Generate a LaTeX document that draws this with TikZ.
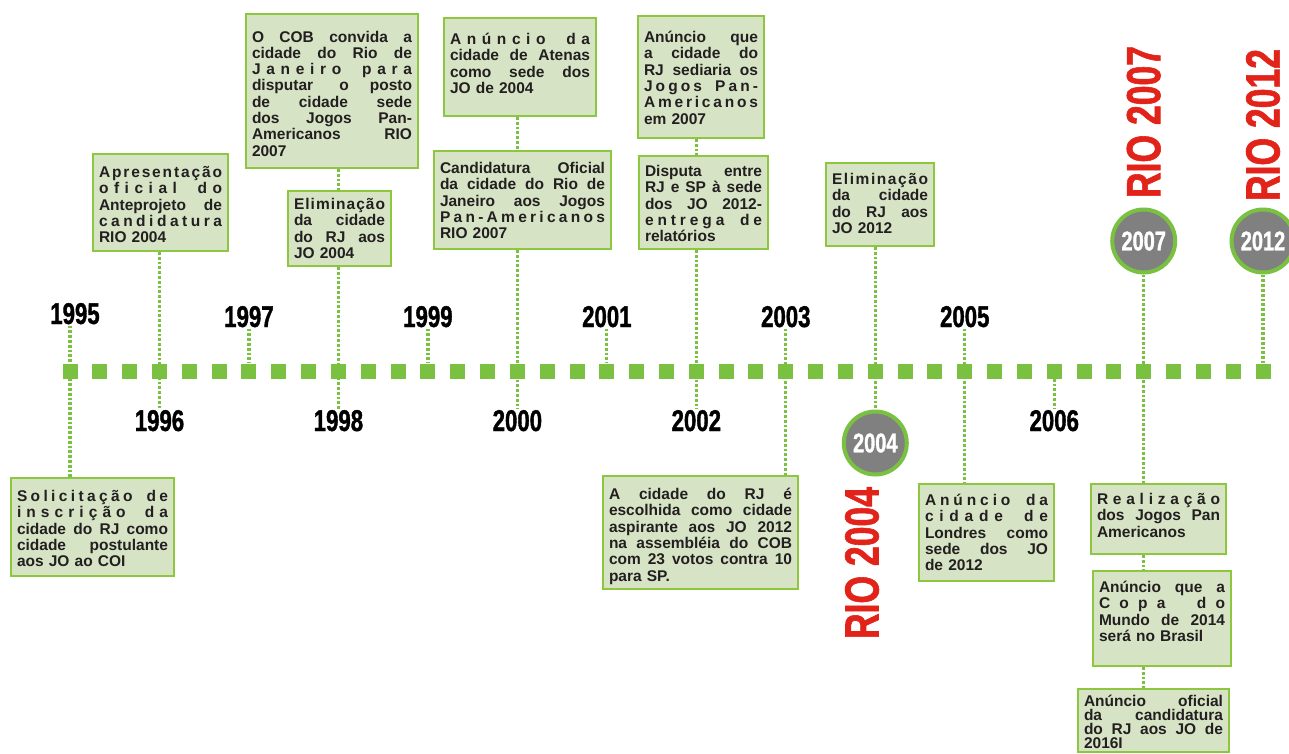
\documentclass[tikz,border=0pt]{standalone}
\usepackage{fontspec}
\setmainfont{Liberation Sans}
\newfontfamily\boxfont{Liberation Sans}
\newfontfamily\yearfont{Liberation Sans}[FakeStretch=0.74,FakeBold=1.2]
\newfontfamily\riofont{Liberation Sans}[FakeStretch=0.74,FakeBold=1.2]

\definecolor{tlgreen}{RGB}{122,193,66}
\definecolor{boxedge}{RGB}{141,198,63}
\definecolor{boxfill}{RGB}{214,228,197}
\definecolor{circgray}{RGB}{128,128,128}
\definecolor{riored}{RGB}{226,35,26}
\definecolor{textdark}{RGB}{35,31,32}

\pgfdeclarelayer{behind}
\pgfsetlayers{behind,main}

% justified row, letter spaced row, last row
\newcommand{\lrow}[1]{\hbox{#1}\par}
\ExplSyntaxOn
\tl_new:N \l_ev_row_tl
\cs_new:Npn \evgap {}
\cs_new_protected:Npn \jrow #1
 {
  \tl_set:Nn \l_ev_row_tl {#1}
  \tl_replace_all:Nnn \l_ev_row_tl { ~ } { \hskip .28em plus 1fil \relax }
  \hbox_to_wd:nn { \linewidth } { \l_ev_row_tl }
  \par
 }
\cs_new_protected:Npn \srow #1
 {
  \tl_set:Nn \l_ev_row_tl {#1}
  \tl_replace_all:Nnn \l_ev_row_tl { ~ } { \evgap }
  \hbox_to_wd:nn { \linewidth }
   {
    \tl_map_inline:Nn \l_ev_row_tl
     {
      \token_if_eq_meaning:NNTF ##1 \evgap
       { \hskip .25em plus 2fil }
       { ##1 \hfil }
     }
    \unskip
   }
  \par
 }
\ExplSyntaxOff

\tikzset{
  sq/.style={fill=tlgreen, minimum size=15pt, inner sep=0pt},
  yr/.style={font=\yearfont\bfseries\fontsize{30}{30}\selectfont, text=black, inner sep=1pt, anchor=base},
  yrcirc/.style={circle, fill=circgray, draw=tlgreen, line width=4pt, minimum size=63pt, inner sep=0pt,
    text=white, font=\yearfont\bfseries\fontsize{27}{27}\selectfont},
  rio/.style={rotate=90, text=riored, inner sep=0pt, font=\riofont\bfseries\fontsize{48}{48}\selectfont},
  evbox/.style={draw=boxedge, line width=2pt, fill=boxfill, anchor=north west, inner xsep=6pt, inner ysep=0pt,
    text=textdark, font=\boxfont\bfseries\fontsize{15.5}{16.3}\selectfont},
  tight/.style={font=\boxfont\bfseries\fontsize{15.5}{14.2}\selectfont},
  dotline/.style={draw=tlgreen, line width=3.2pt, dash pattern=on 2.8pt off 2pt}
}

\begin{document}
\begin{tikzpicture}[x=1pt,y=-1pt]
  \useasboundingbox (0,0) rectangle (1289,753);
  \clip (0,0) rectangle (1289,753);

  % Timeline
  \foreach \i in {0,...,40}
    \node[sq] (s\i) at ({70+\i*29.825},371) {};

  % Years
  \foreach \i/\yy in {6/1997,12/1999,18/2001,24/2003,30/2005}
    \node[yr] (y\yy) at (s\i |- 0,327) {\yy};
  \node[yr, xshift=5pt] (y1995) at (s0 |- 0,324) {1995};
  \foreach \i/\yy in {3/1996,9/1998,15/2000,21/2002,33/2006}
    \node[yr] (y\yy) at (s\i |- 0,431) {\yy};

  % Circles
  \node[yrcirc] (c2004) at (s27 |- 0,443) {2004};
  \node[yrcirc] (c2007) at (s36 |- 0,241) {2007};
  \node[yrcirc] (c2012) at (s40 |- 0,241) {2012};

  % RIO
  \node[rio] (r2004) at (862,563) {RIO 2004};
  \node[rio] (r2007) at (s36 |- 0,122) {RIO 2007};
  \node[rio] (r2012) at (s40 |- 0,125) {RIO 2012};

  % Boxes above
  \node[evbox, text width=123pt, text height=23.5pt, text depth=73.5pt] (b2) at (92,153)
    {\srow{Apresentação}\srow{oficial do}\jrow{Anteprojeto de}\srow{candidatura}\lrow{RIO 2004}};
  \node[evbox, text width=160pt, text height=28pt, text depth=126pt] (b3) at (245,13)
    {\jrow{O COB convida a}\jrow{cidade do Rio de}\srow{Janeiro para}\jrow{disputar \ o posto}%
     \jrow{de cidade sede}\jrow{dos Jogos Pan-}\jrow{Americanos RIO}\lrow{2007}};
  \node[evbox, text width=91pt, text height=18.5pt, text depth=56.5pt] (b4) at (287,190)
    {\srow{Eliminação}\jrow{da cidade}\jrow{do RJ aos}\lrow{JO 2004}};
  \node[evbox, text width=140pt, text height=26.5pt, text depth=71.5pt] (b5) at (443,17)
    {\srow{Anúncio da}\jrow{cidade de Atenas}\jrow{como sede dos}\lrow{JO de 2004}};
  \node[evbox, text width=165pt, text height=22.5pt, text depth=75.5pt] (b6) at (433,150)
    {\jrow{Candidatura Oficial}\jrow{da cidade do Rio de}\jrow{Janeiro aos Jogos}\srow{Pan-Americanos}\lrow{RIO 2007}};
  \node[evbox, text width=114pt, text height=26.5pt, text depth=95.5pt] (b7) at (637,15)
    {\jrow{Anúncio que}\jrow{a cidade do}\jrow{RJ sediaria os}\srow{Jogos Pan-}\srow{Americanos}\lrow{em 2007}};
  \node[evbox, text width=117pt, text height=20.5pt, text depth=72.5pt] (b8) at (638,155)
    {\jrow{Disputa entre}\jrow{RJ e SP à sede}\jrow{dos JO 2012-}\srow{entrega de}\lrow{relatórios}};
  \node[evbox, text width=96pt, text height=21.5pt, text depth=61.5pt] (b10) at (825,162)
    {\srow{Eliminação}\jrow{da cidade}\jrow{do RJ aos}\lrow{JO 2012}};

  % Boxes below
  \node[evbox, text width=151pt, text height=23.5pt, text depth=74.5pt] (b1) at (10,477)
    {\srow{Solicitação de}\srow{inscrição da}\jrow{cidade do RJ como}\jrow{cidade postulante}\lrow{aos JO ao COI}};
  \node[evbox, text width=183pt, text height=23.5pt, text depth=89.5pt] (b9) at (602,475)
    {\jrow{A cidade do RJ é}\jrow{escolhida como cidade}\jrow{aspirante aos JO 2012}\jrow{na assembléia do COB}%
     \jrow{com 23 votos contra 10}\lrow{para SP.}};
  \node[evbox, text width=123pt, text height=21.5pt, text depth=75.5pt] (b11) at (918,483)
    {\srow{Anúncio da}\srow{cidade de}\jrow{Londres como}\jrow{sede dos JO}\lrow{de 2012}};
  \node[evbox, text width=123pt, text height=20.5pt, text depth=49.5pt] (b12) at (1090,483)
    {\srow{Realização}\jrow{dos Jogos Pan}\lrow{Americanos}};
  \node[evbox, text width=126pt, text height=21.5pt, text depth=73.5pt] (b13) at (1092,570)
    {\jrow{Anúncio que a}\srow{Copa do}\jrow{Mundo de 2014}\lrow{será no Brasil}};
  \node[evbox, tight, text width=139pt, text height=17pt, text depth=46pt] (b14) at (1077,688)
    {\jrow{Anúncio oficial}\jrow{da candidatura}\jrow{do RJ aos JO de}\lrow{2016I}};

  % Dotted connectors
  \begin{pgfonlayer}{behind}
    \draw[dotline] (s0 |- y1995.south) -- (s0 |- b1.north);
    \draw[dotline] (s3 |- b2.south) -- (s3 |- y1996.north);
    \draw[dotline] (s6 |- y1997.south) -- (s6);
    \draw[dotline] (s9 |- b3.south) -- (s9 |- b4.north);
    \draw[dotline] (s9 |- b4.south) -- (s9 |- y1998.north);
    \draw[dotline] (s12 |- y1999.south) -- (s12);
    \draw[dotline] (s15 |- b5.south) -- (s15 |- b6.north);
    \draw[dotline] (s15 |- b6.south) -- (s15 |- y2000.north);
    \draw[dotline] (s18 |- y2001.south) -- (s18);
    \draw[dotline] (s21 |- b7.south) -- (s21 |- b8.north);
    \draw[dotline] (s21 |- b8.south) -- (s21 |- y2002.north);
    \draw[dotline] (s24 |- y2003.south) -- (s24 |- b9.north);
    \draw[dotline] (s27 |- b10.south) -- (s27 |- c2004.north);
    \draw[dotline] (s30 |- y2005.south) -- (s30 |- b11.north);
    \draw[dotline] (s33) -- (s33 |- y2006.north);
    \draw[dotline] (s36 |- c2007.south) -- (s36 |- b12.north);
    \draw[dotline] (s36 |- b12.south) -- (s36 |- b13.north);
    \draw[dotline] (s36 |- b13.south) -- (s36 |- b14.north);
    \draw[dotline] (s40 |- c2012.south) -- (s40);
  \end{pgfonlayer}
\end{tikzpicture}
\end{document}
